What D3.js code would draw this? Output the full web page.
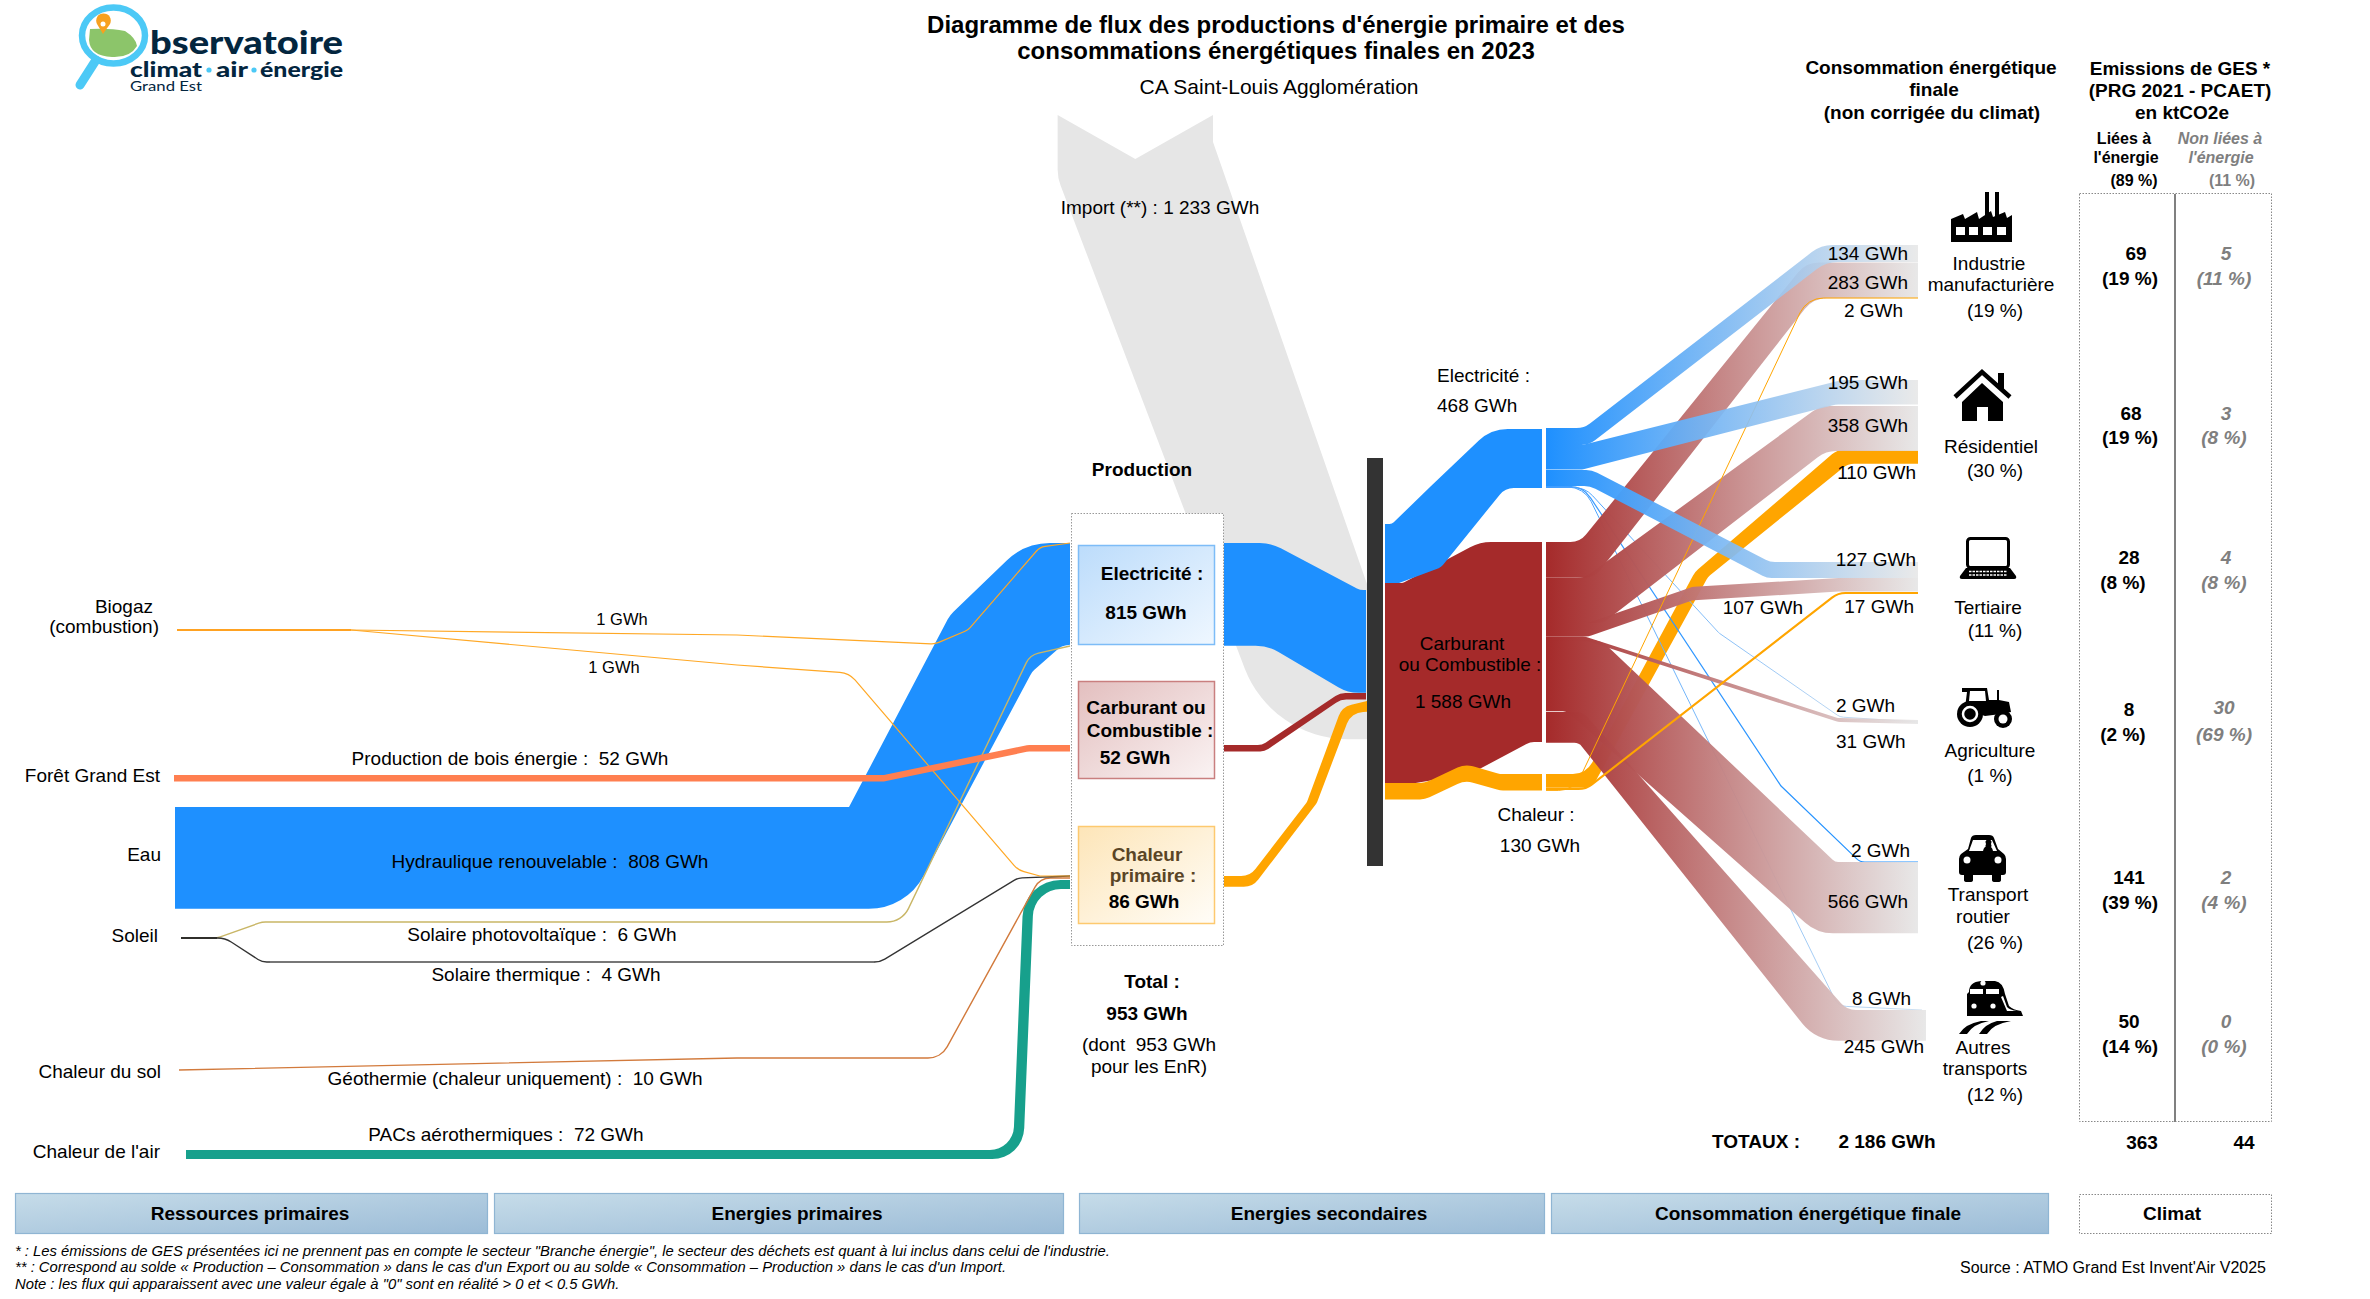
<!DOCTYPE html>
<html lang="fr"><head><meta charset="utf-8"><title>Diagramme de flux</title>
<script src="https://cdn.jsdelivr.net/npm/d3@7"></script>
<style>html,body{margin:0;padding:0;background:#fff}svg{display:block}text{font-family:"Liberation Sans",Arial,sans-serif;dominant-baseline:central;fill:#000}</style>
</head><body><svg id="c" width="2370" height="1299"></svg>
<script>
// ---------- DATA (GWh, ktCO2e, %) ----------
const title = ["Diagramme de flux des productions d'énergie primaire et des","consommations énergétiques finales en 2023"];
const territory = "CA Saint-Louis Agglomération";
const primaryNames = ["Biogaz vers électricité","Biogaz vers chaleur","Production de bois énergie","Hydraulique renouvelable","Solaire photovoltaïque","Solaire thermique","Géothermie (chaleur uniquement)","PACs aérothermiques"];
const primaryValues = [1,1,52,808,6,4,10,72];
const productionNames = ["Electricité","Carburant ou Combustible","Chaleur primaire"];
const productionValues = [815,52,86];
const productionTotal = 953, enrTotal = 953, importValue = 1233;
const secondaryValues = [468,1588,130];
const sectors = ["Industrie manufacturière","Résidentiel","Tertiaire","Agriculture","Transport routier","Autres transports"];
const sectorShare = [19,30,11,1,26,12];
const elecBySector = [134,195,127,2,2,8];
const fuelBySector = [283,358,107,31,566,245];
const heatBySector = [2,110,17];
const ghgEnergy = [69,68,28,8,141,50];
const ghgEnergyShare = [19,19,8,2,39,14];
const ghgOther = [5,3,4,30,2,0];
const ghgOtherShare = [11,8,8,69,4,0];
const totals = {final:2186, ghgEnergy:363, ghgOther:44, shareEnergy:89, shareOther:11};
const stages = ["Ressources primaires","Energies primaires","Energies secondaires","Consommation énergétique finale"];
const notes = ['* : Les émissions de GES présentées ici ne prennent pas en compte le secteur "Branche énergie", le secteur des déchets est quant à lui inclus dans celui de l\'industrie.',
 '** : Correspond au solde « Production – Consommation » dans le cas d\'un Export ou au solde « Consommation – Production » dans le cas d\'un Import.',
 'Note : les flux qui apparaissent avec une valeur égale à "0" sont en réalité > 0 et < 0.5 GWh.'];

// ---------- SCALES ----------
const thick = d3.scaleLinear().domain([0,1000]).range([0,126]);
const fr = d3.formatLocale({decimal:",",thousands:" ",grouping:[3],currency:["",""]});
const num = fr.format(",d"), gwh = v => num(v)+" GWh";
const svg = d3.select("#c"), defs = svg.append("defs");

// ---------- COLOURS ----------
const BLUE="#1e90ff", BROWN="#a52a2a", ORANGE="#ffa500", GREY="#e6e6e6", CORAL="#ff7f50", TEAL="#17a08c";
let gid=0;
function fade(color,x1,x2,end=GREY,op=.85){
  const id="g"+(gid++);
  const g=defs.append("linearGradient").attr("id",id).attr("gradientUnits","userSpaceOnUse")
    .attr("x1",x1).attr("x2",x2).attr("y1",0).attr("y2",0);
  g.append("stop").attr("offset",0).attr("stop-color",color).attr("stop-opacity",1);
  g.append("stop").attr("offset",1).attr("stop-color",end).attr("stop-opacity",op);
  return `url(#${id})`;
}

// ---------- ROUTING: each waypoint is [x, y, nx, ny, rTop, rBottom]; far edge = point + thickness*(nx,ny) ----------
function P(x,y,nx=0,ny=1,rt=30,rb=rt){return {x,y,nx,ny,rt,rb};}
function trace(ctx,pts,key,first){
  pts=pts.filter((p,i)=>i==0||Math.hypot(p.x-pts[i-1].x,p.y-pts[i-1].y)>.01);
  if(first) ctx.moveTo(pts[0].x,pts[0].y); else ctx.lineTo(pts[0].x,pts[0].y);
  for(let i=1;i<pts.length-1;i++){
    const a=pts[i-1],b=pts[i],c=pts[i+1];
    const l1=Math.hypot(b.x-a.x,b.y-a.y),l2=Math.hypot(c.x-b.x,c.y-b.y);
    const cos=((a.x-b.x)*(c.x-b.x)+(a.y-b.y)*(c.y-b.y))/(l1*l2);
    const th=Math.acos(Math.max(-1,Math.min(1,cos)));
    let r=b[key]||0;
    const t=Math.tan(th/2);
    r=Math.min(r,.8*Math.min(l1,l2)*t);
    if(r<.01||th>3.13) ctx.lineTo(b.x,b.y); else ctx.arcTo(b.x,b.y,c.x,c.y,r);
  }
  const z=pts[pts.length-1]; ctx.lineTo(z.x,z.y);
}
function ribbon(route,value,notch){
  const t=thick(value), ctx=d3.path();
  trace(ctx,route,"rt",true);
  const far=route.map(p=>({x:p.x+t*p.nx,y:p.y+t*p.ny,rt:p.rb,rb:p.rb})).reverse();
  trace(ctx,far,"rb",false);
  if(notch) ctx.lineTo((route[0].x+far[far.length-1].x)/2,route[0].y+notch);
  ctx.closePath();
  return ctx.toString();
}
function hairline(route){const c=d3.path();trace(c,route,"rt",true);return c.toString();}

// ---------- LAYOUT OF RIBBONS ----------
const importRoute=[P(1213,115,-1,0,0),P(1213,142,-1,.23,0,45),P(1367,584,-.613,1,0,125),P(1367,584,0,1,0)];
const leftRibbons=[
 {v:primaryValues[3],c:BLUE,r:[P(175,807),P(849,807,.56,1,0,62),P(950,615,.805,.56,30,18),P(1025,543,.36,1.01,62,12),P(1070,543)]},
 {v:primaryValues[7],c:TEAL,r:[P(186,1150),P(1013,1150,1.1,1,24,32),P(1024,880,1.1,1,38,28),P(1070,880)]},
];
const leftThin=[
 {w:1.4,c:"#d27a3c",r:[P(179,1070),P(737,1058,0,1,0),P(941,1058,0,1,22),P(1040,878,0,1,18),P(1070,878)]},
 {w:1.4,c:"#c9b666",r:[P(181,938),P(217,938,0,1,20),P(262,922,0,1,20),P(902,922,0,1,24),P(1030,655,0,1,18),P(1070,646)]},
 {w:1.3,c:"#333",r:[P(181,938),P(225,938,0,1,25),P(262,962,0,1,16),P(880,962,0,1,20),P(1018,878,0,1,16),P(1070,876)]},
 {w:1.2,c:"#ffa825",r:[P(177,630),P(351,630,0,1,0),P(737,635,0,1,0),P(935,644,0,1,18),P(968,630,0,1,14),P(1040,547,0,1,14),P(1070,543)]},
 {w:1.2,c:"#ffa825",r:[P(177,630),P(351,630,0,1,0),P(737,665,0,1,0),P(849,673,0,1,22),P(1018,870,0,1,20),P(1040,876,0,1,8),P(1070,876)]},
];
const coralRoute=[P(174,775),P(884,775,0,1,10),P(1028,745,0,1,12),P(1070,745)];
const midRibbons=[
 {v:productionValues[0],c:BLUE,r:[P(1224,543),P(1271,543,-.03,1,45,45),P(1360,590,-.12,1,14,40),P(1366,590)]},
 {v:productionValues[1],c:BROWN,r:[P(1224,745),P(1262,745,.4,1,14),P(1340,693,.1,1,18),P(1366,693)]},
 {v:productionValues[2],c:ORANGE,r:[P(1224,876),P(1250,876,.25,1,18),P(1307,802,.9,.1,10),P(1342,707,.85,.5,18),P(1367,701)]},
];
const secondary=[
 {v:secondaryValues[1],c:BROWN,r:[P(1385,583),P(1403,583,.06,1,8),P(1480,542,-.05,1.16,45,10),P(1515,542,.075,1,0,16),P(1542,542)]},
 {v:secondaryValues[0],c:BLUE,r:[P(1385,524),P(1392,524,.12,1,6,8),P(1430,487,.19,1.36,0,10),P(1491,429,.24,1,42,18),P(1542,429)]},
 {v:secondaryValues[2],c:ORANGE,r:[P(1385,783),P(1425,783,0,1,22),P(1465,764,0,1,22),P(1500,774,0,1,22),P(1542,774)]},
];
const blueOut=[
 {v:elecBySector[0],r:[P(1546,428),P(1584,428,.3,1,22),P(1821,245,.3,1,34),P(1918,245)]},
 {v:elecBySector[1],r:[P(1546,445),P(1582,445,0,1,20),P(1842,380,-.28,1,26),P(1918,380)]},
 {v:elecBySector[2],r:[P(1546,470),P(1592,470,-.12,1,24),P(1770,562,-.2,1,20),P(1918,562)]},
];
const brownOut=[
 {v:fuelBySector[0],r:[P(1546,542),P(1580,542,.4,1,20),P(1806,262.5,.2,1,28),P(1918,262.5)]},
 {v:fuelBySector[1],r:[P(1546,578),P(1584,578,.42,1,22),P(1820,406,.13,1,30),P(1918,406)]},
 {v:fuelBySector[2],r:[P(1546,623),P(1588,623,.05,1,16),P(1692,587,0,1,16),P(1839,578,0,1,16),P(1918,578)]},
 {v:fuelBySector[3],r:[P(1546,636.5),P(1585,636.5,0,1,14),P(1838,718,0,1,14),P(1918,720)]},
 {v:fuelBySector[4],r:[P(1546,640),P(1601,640,-.48,1,26,10),P(1835,862,-.25,1,8,42),P(1918,862)]},
 {v:fuelBySector[5],r:[P(1546,712),P(1583,712,-.13,1,16,10),P(1847,1010,-1,1,20,46),P(1926,1010)]},
];
const heatOut={v:heatBySector[1],r:[P(1546,774),P(1586,774,.43,1,22,16),P(1695,572,.93,.36,22,14),P(1837,450,.79,1,18,18),P(1918,450)]};
const heatThin=[
 {w:2.1,c:ORANGE,r:[P(1546,789),P(1586,789,0,1,22),P(1838,593,0,1,22),P(1918,593)]},
 {w:1.0,c:ORANGE,r:[P(1546,790.4),P(1574,790.4,0,1,24),P(1807,298,0,1,26),P(1918,298)]},
];
const blueThin=[
 {w:1.2,c:"#3d9cff",e:"#1e90ff",o:1,r:[P(1546,486.4),P(1583,486.4,0,1,26),P(1781,786,0,1,10),P(1860,862,0,1,12),P(1918,862)]},
 {w:1,c:"#3d9cff",e:"#cfe0f0",o:1,r:[P(1546,487),P(1584,487,0,1,26),P(1838,1006,0,1,14),P(1922,1010)]},
 {w:1,c:"#3d9cff",e:"#dde6ee",o:1,r:[P(1546,487.5),P(1585,487.5,0,1,26),P(1719,633,0,1,6),P(1840,717,0,1,12),P(1918,722)]},
];

// ---------- DRAW FLOWS ----------
const fl=svg.append("g").attr("id","flows");
fl.append("path").attr("d",ribbon(importRoute,importValue,44)).attr("fill",GREY);
fl.selectAll(null).data(leftRibbons.slice(0,1)).join("path").attr("d",d=>ribbon(d.r,d.v)).attr("fill",d=>d.c);
fl.selectAll(null).data(midRibbons).join("path").attr("d",d=>ribbon(d.r,d.v)).attr("fill",d=>d.c);
fl.selectAll(null).data(leftRibbons.slice(1)).join("path").attr("d",d=>ribbon(d.r,d.v)).attr("fill",d=>d.c);
fl.selectAll(null).data(leftThin).join("path").attr("d",d=>hairline(d.r)).attr("fill","none").attr("stroke",d=>d.c).attr("stroke-width",d=>d.w);
fl.append("line").attr("x1",270).attr("x2",874).attr("y1",962).attr("y2",962).attr("stroke","#777").attr("stroke-width",2.2);
fl.append("path").attr("d",ribbon(coralRoute,primaryValues[2])).attr("fill",CORAL);
fl.append("line").attr("x1",181).attr("x2",217).attr("y1",938).attr("y2",938).attr("stroke","#222").attr("stroke-width",1.4);
fl.append("line").attr("x1",177).attr("x2",351).attr("y1",630).attr("y2",630).attr("stroke","#ff9a10").attr("stroke-width",1.5);
fl.selectAll(null).data(secondary).join("path").attr("d",d=>ribbon(d.r,d.v)).attr("fill",d=>d.c);
const xe=r=>r[r.length-1].x;
fl.append("path").attr("d",ribbon(heatOut.r,heatOut.v)).attr("fill",ORANGE);
fl.selectAll(null).data(blueThin).join("path").attr("d",d=>hairline(d.r)).attr("fill","none").attr("stroke-width",d=>d.w)
  .attr("stroke",d=>fade(d.c,1546,xe(d.r),d.e,d.o));
fl.selectAll(null).data(brownOut).join("path").attr("d",d=>ribbon(d.r,d.v)).attr("fill",d=>fade(BROWN,1546,xe(d.r),GREY,.92));
fl.selectAll(null).data(heatThin).join("path").attr("d",d=>hairline(d.r)).attr("fill","none").attr("stroke",d=>d.c).attr("stroke-width",d=>d.w);
fl.selectAll(null).data(blueOut).join("path").attr("d",d=>ribbon(d.r,d.v)).attr("fill",d=>fade(BLUE,1546,xe(d.r)));
// central bar
fl.append("rect").attr("x",1367).attr("y",458).attr("width",16).attr("height",408).attr("fill","#333");

// ---------- PRODUCTION BOXES ----------
function diag(id,a,b){const g=defs.append("linearGradient").attr("id",id).attr("x1",0).attr("y1",0).attr("x2",1).attr("y2",1);
 g.append("stop").attr("offset",0).attr("stop-color",a);g.append("stop").attr("offset",1).attr("stop-color",b);return `url(#${id})`;}
const gb=svg.append("g");
gb.append("rect").attr("x",1071.5).attr("y",513.5).attr("width",152).attr("height",432).attr("fill","#fff").attr("stroke","#999").attr("stroke-width",1).attr("stroke-dasharray","1.5 1.5");
const boxes=[{y:545,h:99,a:"#bcdcfb",b:"#eff7ff",s:"#7dbcf7"},{y:681,h:97,a:"#e3bfbf",b:"#faf3f3",s:"#c97f7f"},{y:826,h:97,a:"#fde5b8",b:"#fffdf8",s:"#fdc96f"}];
gb.selectAll(null).data(boxes).join("rect").attr("x",1078.5).attr("y",d=>d.y+.5).attr("width",136).attr("height",d=>d.h)
 .attr("fill",(d,i)=>diag("bx"+i,d.a,d.b)).attr("stroke",d=>d.s).attr("stroke-width",1.5);

// ---------- STAGE BARS ----------
const stagePos=[[15,472,250],[494,569,797],[1079,465,1329],[1551,497,1808]];
const sb=svg.append("g");
stages.forEach((s,i)=>{
 sb.append("rect").attr("x",stagePos[i][0]+.5).attr("y",1193.5).attr("width",stagePos[i][1]).attr("height",40)
  .attr("fill",diag("st"+i,"#c6dce9","#9cbcd7")).attr("stroke","#8fb5d3").attr("stroke-width",1.2);
});
sb.append("rect").attr("x",2079.5).attr("y",1194.5).attr("width",192).attr("height",39).attr("fill","#fff").attr("stroke","#888").attr("stroke-dasharray","1.5 1.5");

// GES table
const gt=svg.append("g");
gt.append("rect").attr("x",2079.5).attr("y",193.5).attr("width",192).attr("height",928).attr("fill","none").attr("stroke","#888").attr("stroke-dasharray","1.5 1.5");
gt.append("line").attr("x1",2175).attr("x2",2175).attr("y1",194).attr("y2",1122).attr("stroke","#808080").attr("stroke-width",2);

// ---------- TEXT ----------
function T(s,x,y,o={}){
 return svg.append("text").text(s).attr("x",x).attr("y",y).attr("text-anchor",o.a||"middle")
  .attr("font-size",o.s||19).attr("font-weight",o.b?"bold":"normal").attr("font-style",o.i?"italic":"normal")
  .style("fill",o.c||"#000").attr("xml:space","preserve").style("white-space","pre");
}
T(title[0],1276,24,{s:24,b:1});T(title[1],1276,50,{s:24,b:1});T(territory,1279,86,{s:21});
T(`Import (**) : ${gwh(importValue)}`,1160,207);
// left
[["Biogaz",153,606],["(combustion)",159,626],["Forêt Grand Est",160,775],["Eau",161,854],["Soleil",158,935],["Chaleur du sol",161,1071],["Chaleur de l'air",160,1151]]
 .forEach(d=>T(d[0],d[1],d[2],{a:"end"}));
T(gwh(primaryValues[0]),622,619,{s:16.5});T(gwh(primaryValues[1]),614,667,{s:16.5});
[[2,510,758],[3,550,861.5],[4,542,934],[5,546,974],[6,515,1078],[7,506,1134]]
 .forEach(d=>T(`${primaryNames[d[0]]} :  ${gwh(primaryValues[d[0]])}`,d[1],d[2]));
// production
T("Production",1142,469,{b:1});
T(productionNames[0]+" :",1152,573,{b:1});T(gwh(productionValues[0]),1146,612,{b:1});
T("Carburant ou",1146,707,{b:1});T("Combustible :",1150,730,{b:1});T(gwh(productionValues[1]),1135,757,{b:1});
T("Chaleur",1147,854,{b:1,c:"#5a4526"});T("primaire :",1153,875,{b:1,c:"#5a4526"});T(gwh(productionValues[2]),1144,901,{b:1});
T("Total :",1152,981,{b:1});T(gwh(productionTotal),1147,1013,{b:1});
T(`(dont  ${gwh(enrTotal)}`,1149,1044);T("pour les EnR)",1149,1066);
// secondary
T("Electricité :",1437,375,{a:"start"});T(gwh(secondaryValues[0]),1437,405,{a:"start"});
T("Carburant",1462,643);T("ou Combustible :",1470,664);T(gwh(secondaryValues[1]),1463,701);
T("Chaleur :",1536,814);T(gwh(secondaryValues[2]),1540,845);
// final values
[[elecBySector[0],1908,253],[fuelBySector[0],1908,282],[heatBySector[0],1903,310],
 [elecBySector[1],1908,382],[fuelBySector[1],1908,425],[heatBySector[1],1916,472],
 [elecBySector[2],1916,559],[fuelBySector[2],1803,607],[heatBySector[2],1914,606],
 [elecBySector[4],1910,850],[fuelBySector[4],1908,901],
 [elecBySector[5],1911,998],[fuelBySector[5],1924,1046]].forEach(d=>T(gwh(d[0]),d[1],d[2],{a:"end"}));
T(gwh(elecBySector[3]),1836,705,{a:"start"});T(gwh(fuelBySector[3]),1836,741,{a:"start"});
// sectors
[["Industrie",1989,263],["manufacturière",1991,284],[`(${sectorShare[0]} %)`,1995,310],
 ["Résidentiel",1991,446],[`(${sectorShare[1]} %)`,1995,470],
 ["Tertiaire",1988,607],[`(${sectorShare[2]} %)`,1995,630],
 ["Agriculture",1990,750],[`(${sectorShare[3]} %)`,1990,775],
 ["Transport",1988,894],["routier",1983,916],[`(${sectorShare[4]} %)`,1995,942],
 ["Autres",1983,1047],["transports",1985,1068],[`(${sectorShare[5]} %)`,1995,1094]].forEach(d=>T(d[0],d[1],d[2]));
// headers
T("Consommation énergétique",1931,67,{b:1});T("finale",1934,89,{b:1});T("(non corrigée du climat)",1932,112,{b:1});
T("Emissions de GES *",2180,68,{b:1});T("(PRG 2021 - PCAET)",2180,90,{b:1});T("en ktCO2e",2182,112,{b:1});
T("Liées à",2124,138,{b:1,s:16});T("l'énergie",2126,157.5,{b:1,s:16});T(`(${totals.shareEnergy} %)`,2134,180,{b:1,s:16});
T("Non liées à",2220,138,{b:1,i:1,s:16,c:"#7f7f7f"});T("l'énergie",2221,157.5,{b:1,i:1,s:16,c:"#7f7f7f"});T(`(${totals.shareOther} %)`,2232,180,{b:1,s:16,c:"#7f7f7f"});
// ges values
const gesY=[[253,278],[413,437.5],[557,582],[709,734],[877,902],[1021,1046]];
const gesX=[[2136,2130],[2131,2130],[2129,2123],[2129,2123],[2129,2130],[2129,2130]];
sectors.forEach((s,i)=>{
 T(ghgEnergy[i],gesX[i][0],gesY[i][0],{b:1});T(`(${ghgEnergyShare[i]} %)`,gesX[i][1],gesY[i][1],{b:1});
 T(ghgOther[i],i==3?2224:2226,i==3?707:gesY[i][0],{b:1,i:1,c:"#7f7f7f"});T(`(${ghgOtherShare[i]} %)`,2224,gesY[i][1],{b:1,i:1,c:"#7f7f7f"});
});
T("TOTAUX :",1756,1141,{b:1});T(gwh(totals.final),1887,1141,{b:1});T(totals.ghgEnergy,2142,1142,{b:1});T(totals.ghgOther,2244,1142,{b:1});
stages.forEach((s,i)=>T(s,stagePos[i][2],1213,{b:1}));
T("Climat",2172,1213,{b:1});
notes.forEach((n,i)=>T(n,15,[1251,1267,1284][i],{a:"start",i:1,s:14.8}));
T("Source : ATMO Grand Est Invent'Air V2025",2266,1267,{a:"end",s:16});

// ---------- ICONS ----------
function icon(x,y,draw){const g=svg.append("g").attr("transform",`translate(${x},${y})`);draw(g);}
const pth=(g,d,f="#000",extra={})=>{const p=g.append("path").attr("d",d).attr("fill",f);for(const k in extra)p.attr(k,extra[k]);return p;};
icon(1951,192,g=>{
 pth(g,"M34,0h4v26h-4zM44,0h4v26h-4zM0,50V27L12,22L14,27L26,20L28,27L40,19L42,25L54,20L56,26L61,23V50Z");
 g.selectAll(null).data([5,18,32,46]).join("rect").attr("x",d=>d).attr("y",35).attr("width",9).attr("height",8).attr("fill","#fff");
});
icon(1954,369,g=>{
 pth(g,"M44,4h6v16h-6z");
 pth(g,"M1,28L28,3L56,28","none",{stroke:"#000","stroke-width":4.5});
 pth(g,"M8,33L28,14L49,33V52H34V38H23V52H8Z");
});
icon(1960,537,g=>{
 g.append("rect").attr("x",7.5).attr("y",1.5).attr("width",41).attr("height",29).attr("rx",3).attr("fill","#fff").attr("stroke","#000").attr("stroke-width",3);
 pth(g,"M6,31H50L56,39Q57,42 54,42H2Q-1,42 0,39Z");
 g.selectAll(null).data([34.5,38]).join("line").attr("x1",9).attr("x2",47).attr("y1",d=>d).attr("y2",d=>d).attr("stroke","#fff").attr("stroke-width",1.3).attr("stroke-dasharray","2.5 1");
});
icon(1957,688,g=>{
 pth(g,"M5,0H30L32,12H40V2h2V12L52,14L54,24L44,26L28,28L10,22L8,20L10,4H5Z");
 pth(g,"M13,3H28L29,13H12Z","#fff");
 g.append("circle").attr("cx",13).attr("cy",26).attr("r",13).attr("fill","#000");
 g.append("circle").attr("cx",13).attr("cy",26).attr("r",7).attr("fill","none").attr("stroke","#fff").attr("stroke-width",2.5);
 g.append("circle").attr("cx",46).attr("cy",31).attr("r",9).attr("fill","#000");
 g.append("circle").attr("cx",46).attr("cy",31).attr("r",4.5).attr("fill","#fff");
});
icon(1959,835,g=>{
 pth(g,"M9,14L12,3Q13,0 17,0H30Q34,0 35,3L39,14L45,19Q47,21 47,24V37Q47,40 44,40H42V45Q42,47 39,47H36Q33,47 33,45V40H14V45Q14,47 11,47H8Q5,47 5,45V40H3Q0,40 0,37V24Q0,21 2,19Z");
 pth(g,"M10,16L14,5H33L38,16Z","#fff");
 pth(g,"M27,9a3,3 0 1,1 5,0a3,3 0 1,1 -5,0M24,16Q25,11 29,11Q33,11 34,16Z");
 g.selectAll(null).data([8,39]).join("circle").attr("cx",d=>d).attr("cy",25).attr("r",3.5).attr("fill","#fff");
 pth(g,"M16,27H31V32H16Z","#000");
});
icon(1959,980,g=>{
 pth(g,"M10,12Q10,2 22,1H36Q44,2 46,14L50,26Q54,30 62,31L64,36H8V14Z");
 pth(g,"M11,9H24V14H11ZM27,9H40V14H27Z","#fff");
 g.selectAll(null).data([[15,26],[34,26],[24,3]]).join("circle").attr("cx",d=>d[0]).attr("cy",d=>d[1]).attr("r",2.6).attr("fill","#fff");
 pth(g,"M0,54Q6,44 22,41H30Q14,44 8,54ZM20,54Q26,44 38,41H52Q34,44 28,54Z");
 pth(g,"M44,16L48,27Q51,30 58,31H48L42,17Z","#fff");
});

// ---------- LOGO ----------
const lg=svg.append("g").attr("id","logo");
lg.append("line").attr("x1",96).attr("y1",60).attr("x2",80).attr("y2",85).attr("stroke","#4cc9f6").attr("stroke-width",9).attr("stroke-linecap","round");
pth(lg,"M90,29Q110,28 125,31Q136,38 137,46Q130,58 112,57Q90,56 89,40Z","#8cc56a");
lg.append("ellipse").attr("cx",113.5).attr("cy",35.5).attr("rx",31.5).attr("ry",28).attr("fill","none").attr("stroke","#4cc9f6").attr("stroke-width",6.5);
pth(lg,"M103,34L97,24A7.3,7.3 0 1,1 110,24Z","#f7a11f");
lg.append("circle").attr("cx",103).attr("cy",24).attr("r",2.5).attr("fill","#fff");
const dk="#03263f";
const LT=(s,x,y,w,fs,b)=>svg.append("text").text(s).attr("x",x).attr("y",y).attr("textLength",w).attr("lengthAdjust","spacingAndGlyphs").attr("font-size",fs).attr("font-weight",b?900:400).style("font-family","Lato").style("fill",dk);
LT("bservatoire",150,41,193,32,1);
LT("climat",130,68,72,21,1);LT("air",216,68,32,21,1);LT("énergie",260,68,83,21,1);
lg.selectAll(null).data([209,254]).join("circle").attr("cx",d=>d).attr("cy",70).attr("r",2.6).attr("fill","#4cc9f6");
LT("Grand Est",130,85.5,72,14,0);
</script></body></html>
